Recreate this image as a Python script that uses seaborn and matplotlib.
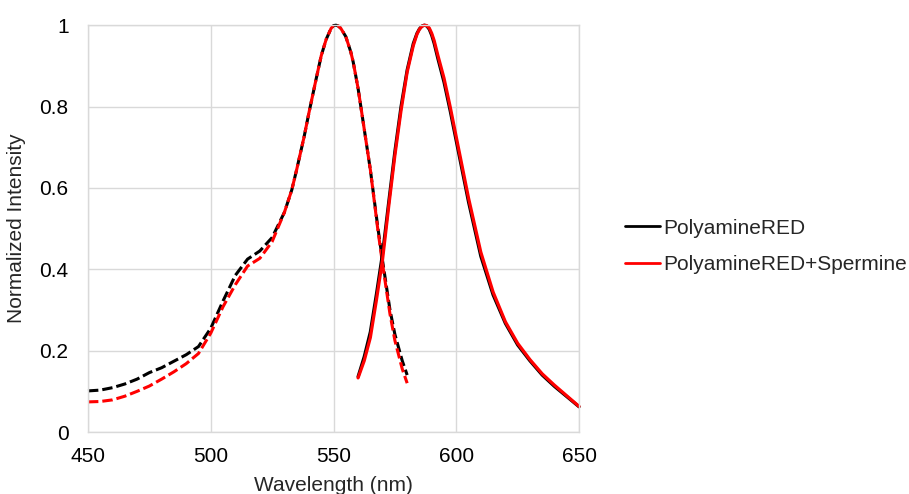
import numpy as np
import pandas as pd
import matplotlib
matplotlib.use("Agg")
import matplotlib.pyplot as plt
import seaborn as sns

# excitation spectra (dashed)
ex_wl = [450, 455, 460, 465, 470, 475, 480, 485, 490, 495, 500, 505, 510, 515, 520,
         525, 530, 533, 535, 538, 540, 543, 545, 547, 549, 550, 551, 552, 553, 555,
         557, 558, 560, 563, 565, 568, 570, 573, 575, 578, 580]
ex_black = [0.101, 0.103, 0.109, 0.118, 0.130, 0.146, 0.158, 0.174, 0.190, 0.210, 0.255,
            0.322, 0.385, 0.425, 0.445, 0.478, 0.540, 0.595, 0.645, 0.725, 0.785, 0.870,
            0.925, 0.965, 0.992, 0.999, 1.000, 0.998, 0.992, 0.972, 0.935, 0.910, 0.845,
            0.725, 0.645, 0.505, 0.420, 0.300, 0.240, 0.175, 0.140]
ex_red = [0.074, 0.075, 0.079, 0.088, 0.100, 0.113, 0.130, 0.148, 0.168, 0.193, 0.243,
          0.308, 0.362, 0.408, 0.427, 0.468, 0.540, 0.595, 0.645, 0.725, 0.785, 0.870,
          0.925, 0.965, 0.992, 0.999, 1.000, 0.998, 0.992, 0.972, 0.935, 0.910, 0.845,
          0.725, 0.645, 0.500, 0.412, 0.290, 0.225, 0.155, 0.120]

# emission spectra (solid)
em_wl = [560, 562.5, 565, 567.5, 570, 572.5, 575, 577.5, 580, 582.5, 584, 585, 586,
         587, 588, 589, 590, 591, 592.5, 595, 597.5, 600, 605, 610, 615, 620, 625, 630,
         635, 640, 645, 650]
em_black = [0.136, 0.185, 0.246, 0.340, 0.440, 0.566, 0.690, 0.800, 0.890, 0.955, 0.980,
            0.991, 0.998, 1.000, 0.998, 0.990, 0.975, 0.955, 0.918, 0.860, 0.790, 0.715,
            0.565, 0.432, 0.337, 0.267, 0.214, 0.175, 0.140, 0.112, 0.087, 0.062]
em_red = [0.133, 0.175, 0.232, 0.325, 0.425, 0.555, 0.680, 0.790, 0.885, 0.950, 0.978,
          0.990, 0.997, 1.000, 0.999, 0.993, 0.980, 0.962, 0.926, 0.870, 0.800, 0.725,
          0.575, 0.442, 0.344, 0.271, 0.218, 0.178, 0.143, 0.115, 0.089, 0.063]

labels = ["PolyamineRED", "PolyamineRED+Spermine"]

sns.set_style("white")
plt.rcParams['font.family'] = ['Liberation Sans', 'DejaVu Sans']

fig = plt.figure(figsize=(9.09, 4.94), dpi=100)
ax = fig.add_axes([0.0968, 0.1255, 0.5402, 0.8235])

grid_c = "#d9d9d9"
dash = (0, (3.4, 1.3))
fs = 15

sns.lineplot(x=ex_wl, y=ex_black, ax=ax, color="black", linewidth=2.2, linestyle=dash,
             clip_on=False, legend=False)
sns.lineplot(x=ex_wl, y=ex_red, ax=ax, color="red", linewidth=2.2, linestyle=dash,
             clip_on=False, legend=False)
sns.lineplot(x=em_wl, y=em_black, ax=ax, color="black", linewidth=2.3, clip_on=False,
             label=labels[0])
sns.lineplot(x=em_wl, y=em_red, ax=ax, color="red", linewidth=2.3, clip_on=False,
             label=labels[1])

ax.set_xlim(450, 650)
ax.set_ylim(0, 1)
ax.set_xticks([450, 500, 550, 600, 650])
ax.set_yticks([0, 0.2, 0.4, 0.6, 0.8, 1.0])
ax.set_yticklabels(["0", "0.2", "0.4", "0.6", "0.8", "1"])
ax.grid(True, color=grid_c, linewidth=1)
for s in ax.spines.values():
    s.set_color(grid_c)
    s.set_linewidth(1)
ax.tick_params(axis="x", length=0, labelsize=fs, colors="black", pad=11)
ax.tick_params(axis="y", length=0, labelsize=fs, colors="black", pad=14)
ax.set_xlabel("Wavelength (nm)", fontsize=fs, labelpad=7)
ax.set_ylabel("Normalized Intensity", fontsize=fs, labelpad=10)

leg = ax.legend(loc="center left", bbox_to_anchor=(1.093, 0.456), frameon=False,
                fontsize=fs, handlelength=1.7, handletextpad=0.15, labelspacing=0.85,
                borderpad=0, borderaxespad=0)
for h in leg.get_lines():
    h.set_linewidth(2)

fig.savefig("out.png", dpi=100)
